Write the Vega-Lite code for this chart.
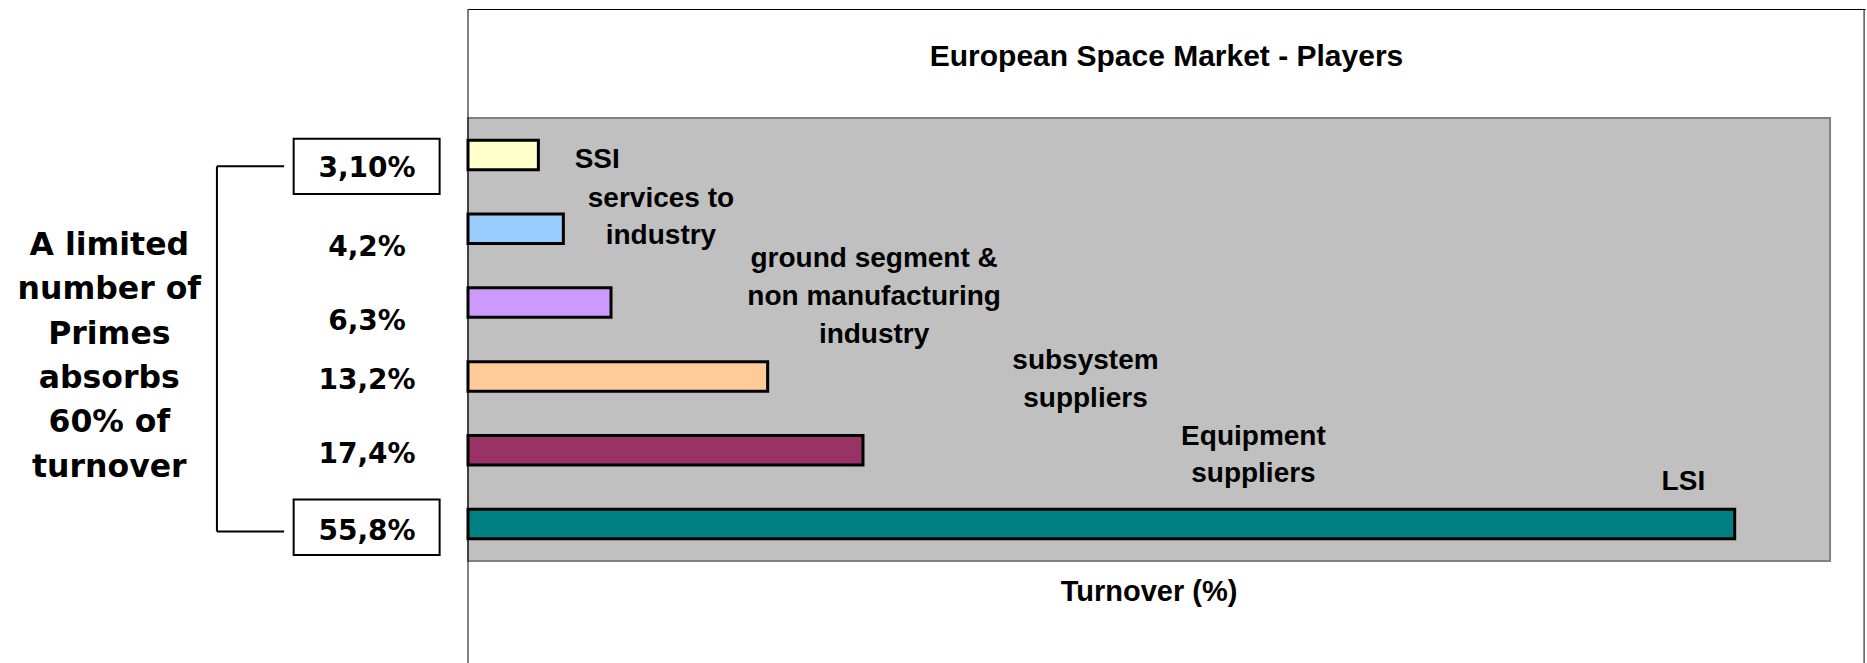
{
  "$schema": "https://vega.github.io/schema/vega-lite/v6.json",
  "width": 1397,
  "height": 654,
  "autosize": {"type": "none"},
  "padding": {"left": 468, "top": 9, "right": 2, "bottom": 0},
  "background": "white",
  "config": {"view": {"stroke": null}},
  "title": {"text": "European Space Market - Players", "anchor": "middle", "frame": "group", "orient": "top", "offset": 0, "baseline": "alphabetic", "dy": 87, "font": "Liberation Sans", "fontSize": 30, "fontWeight": "bold", "color": "black"},
  "data": {"values": [
    {"player": "SSI", "label": "SSI", "turnover": 3.1, "share": "3,10%"},
    {"player": "services to industry", "label": "services to\nindustry", "turnover": 4.2, "share": "4,2%"},
    {"player": "ground segment & non manufacturing industry", "label": "ground segment &\nnon manufacturing\nindustry", "turnover": 6.3, "share": "6,3%"},
    {"player": "subsystem suppliers", "label": "subsystem\nsuppliers", "turnover": 13.2, "share": "13,2%"},
    {"player": "Equipment suppliers", "label": "Equipment\nsuppliers", "turnover": 17.4, "share": "17,4%"},
    {"player": "LSI", "label": "LSI", "turnover": 55.8, "share": "55,8%"}
  ]},
  "layer": [
    {
      "data": {"values": [{}]},
      "mark": {"type": "rect", "fill": "#C0C0C0", "stroke": "#808080", "strokeWidth": 2},
      "encoding": {
        "x": {"datum": 0, "type": "quantitative"},
        "x2": {"datum": 60},
        "y": {"datum": "SSI", "type": "nominal", "bandPosition": -0.75, "axis": null},
        "y2": {"datum": "LSI", "bandPosition": 1.75}
      }
    },
    {
      "data": {"values": [{}]},
      "mark": {"type": "rule", "color": "black", "strokeWidth": 1},
      "encoding": {"x": {"datum": 0, "type": "quantitative"}}
    },
    {
      "data": {"values": [{}]},
      "mark": {"type": "rule", "color": "black", "strokeWidth": 1},
      "encoding": {"x": {"datum": 61.5, "type": "quantitative"}}
    },
    {
      "mark": {"type": "bar", "stroke": "black", "strokeWidth": 3},
      "encoding": {
        "x": {"field": "turnover", "type": "quantitative",
              "scale": {"domain": [0, 61.54], "nice": false, "zero": false},
              "axis": {"orient": "top", "domain": true, "domainColor": "black", "domainWidth": 1, "ticks": false, "labels": false, "grid": false, "title": null}},
        "y": {"field": "player", "type": "nominal",
              "scale": {"domain": ["SSI", "services to industry", "ground segment & non manufacturing industry", "subsystem suppliers", "Equipment suppliers", "LSI"], "range": [109, 552], "paddingInner": 0.6, "paddingOuter": 0.3},
              "axis": null},
        "color": {"field": "player", "type": "nominal",
                  "scale": {"domain": ["SSI", "services to industry", "ground segment & non manufacturing industry", "subsystem suppliers", "Equipment suppliers", "LSI"], "range": ["#FFFFCC", "#99CCFF", "#CC99FF", "#FFCC99", "#993366", "#008080"]},
                  "legend": null}
      }
    },
    {
      "transform": [{"filter": "datum.player === 'SSI'"}],
      "mark": {"type": "text", "font": "Liberation Sans", "fontWeight": "bold", "fontSize": 28, "align": "left", "baseline": "alphabetic", "dy": 12.7, "color": "black", "lineBreak": "\n", "lineHeight": 37.5},
      "encoding": {"x": {"datum": 4.7, "type": "quantitative"}, "y": {"field": "player", "type": "nominal", "axis": null}, "text": {"field": "label"}}
    },
    {
      "transform": [{"filter": "datum.player === 'services to industry'"}],
      "mark": {"type": "text", "font": "Liberation Sans", "fontWeight": "bold", "fontSize": 28, "align": "center", "baseline": "alphabetic", "dy": -22.1, "color": "black", "lineBreak": "\n", "lineHeight": 37.5},
      "encoding": {"x": {"datum": 8.5, "type": "quantitative"}, "y": {"field": "player", "type": "nominal", "axis": null}, "text": {"field": "label"}}
    },
    {
      "transform": [{"filter": "datum.player === 'ground segment & non manufacturing industry'"}],
      "mark": {"type": "text", "font": "Liberation Sans", "fontWeight": "bold", "fontSize": 28, "align": "center", "baseline": "alphabetic", "dy": -35.1, "color": "black", "lineBreak": "\n", "lineHeight": 38},
      "encoding": {"x": {"datum": 17.89, "type": "quantitative"}, "y": {"field": "player", "type": "nominal", "axis": null}, "text": {"field": "label"}}
    },
    {
      "transform": [{"filter": "datum.player === 'subsystem suppliers'"}],
      "mark": {"type": "text", "font": "Liberation Sans", "fontWeight": "bold", "fontSize": 28, "align": "center", "baseline": "alphabetic", "dy": -7.2, "color": "black", "lineBreak": "\n", "lineHeight": 38},
      "encoding": {"x": {"datum": 27.2, "type": "quantitative"}, "y": {"field": "player", "type": "nominal", "axis": null}, "text": {"field": "label"}}
    },
    {
      "transform": [{"filter": "datum.player === 'Equipment suppliers'"}],
      "mark": {"type": "text", "font": "Liberation Sans", "fontWeight": "bold", "fontSize": 28, "align": "center", "baseline": "alphabetic", "dy": -5.3, "color": "black", "lineBreak": "\n", "lineHeight": 37.5},
      "encoding": {"x": {"datum": 34.6, "type": "quantitative"}, "y": {"field": "player", "type": "nominal", "axis": null}, "text": {"field": "label"}}
    },
    {
      "transform": [{"filter": "datum.player === 'LSI'"}],
      "mark": {"type": "text", "font": "Liberation Sans", "fontWeight": "bold", "fontSize": 28, "align": "center", "baseline": "alphabetic", "dy": -34, "color": "black"},
      "encoding": {"x": {"datum": 53.54, "type": "quantitative"}, "y": {"field": "player", "type": "nominal", "axis": null}, "text": {"field": "label"}}
    },
    {
      "transform": [{"filter": "datum.player === 'SSI'"}],
      "mark": {"type": "rect", "fill": "white", "stroke": "black", "strokeWidth": 2},
      "encoding": {"x": {"datum": -7.68, "type": "quantitative"}, "x2": {"datum": -1.25}, "y": {"field": "player", "type": "nominal", "bandPosition": -0.05, "axis": null}, "y2": {"field": "player", "bandPosition": 1.82}}
    },
    {
      "transform": [{"filter": "datum.player === 'LSI'"}],
      "mark": {"type": "rect", "fill": "white", "stroke": "black", "strokeWidth": 2},
      "encoding": {"x": {"datum": -7.68, "type": "quantitative"}, "x2": {"datum": -1.25}, "y": {"field": "player", "type": "nominal", "bandPosition": -0.33, "axis": null}, "y2": {"field": "player", "bandPosition": 1.55}}
    },
    {
      "transform": [{"filter": "datum.player === 'SSI'"}],
      "mark": {"type": "text", "font": "DejaVu Sans", "fontWeight": "bold", "fontSize": 28, "align": "center", "baseline": "middle", "dy": 14, "color": "black"},
      "encoding": {"x": {"datum": -4.45, "type": "quantitative"}, "y": {"field": "player", "type": "nominal", "axis": null}, "text": {"field": "share"}}
    },
    {
      "transform": [{"filter": "indexof(['services to industry', 'ground segment & non manufacturing industry'], datum.player) >= 0"}],
      "mark": {"type": "text", "font": "DejaVu Sans", "fontWeight": "bold", "fontSize": 28, "align": "center", "baseline": "middle", "dy": 19, "color": "black"},
      "encoding": {"x": {"datum": -4.45, "type": "quantitative"}, "y": {"field": "player", "type": "nominal", "axis": null}, "text": {"field": "share"}}
    },
    {
      "transform": [{"filter": "indexof(['subsystem suppliers', 'Equipment suppliers'], datum.player) >= 0"}],
      "mark": {"type": "text", "font": "DejaVu Sans", "fontWeight": "bold", "fontSize": 28, "align": "center", "baseline": "middle", "dy": 4.5, "color": "black"},
      "encoding": {"x": {"datum": -4.45, "type": "quantitative"}, "y": {"field": "player", "type": "nominal", "axis": null}, "text": {"field": "share"}}
    },
    {
      "transform": [{"filter": "datum.player === 'LSI'"}],
      "mark": {"type": "text", "font": "DejaVu Sans", "fontWeight": "bold", "fontSize": 28, "align": "center", "baseline": "middle", "dy": 8, "color": "black"},
      "encoding": {"x": {"datum": -4.45, "type": "quantitative"}, "y": {"field": "player", "type": "nominal", "axis": null}, "text": {"field": "share"}}
    },
    {
      "data": {"values": [{}]},
      "mark": {"type": "rule", "color": "black", "strokeWidth": 2},
      "encoding": {"x": {"datum": -11.06, "type": "quantitative"}, "y": {"datum": "SSI", "type": "nominal", "bandPosition": 0.886, "axis": null}, "y2": {"datum": "LSI", "bandPosition": 0.755}}
    },
    {
      "data": {"values": [{}]},
      "mark": {"type": "rule", "color": "black", "strokeWidth": 2},
      "encoding": {"x": {"datum": -11.06, "type": "quantitative"}, "x2": {"datum": -8.1}, "y": {"datum": "SSI", "type": "nominal", "bandPosition": 0.886, "axis": null}}
    },
    {
      "data": {"values": [{}]},
      "mark": {"type": "rule", "color": "black", "strokeWidth": 2},
      "encoding": {"x": {"datum": -11.06, "type": "quantitative"}, "x2": {"datum": -8.1}, "y": {"datum": "LSI", "type": "nominal", "bandPosition": 0.755, "axis": null}}
    },
    {
      "data": {"values": [{"note": "A limited\nnumber of\nPrimes\nabsorbs\n60% of\nturnover"}]},
      "mark": {"type": "text", "font": "DejaVu Sans", "fontWeight": "bold", "fontSize": 31.5, "align": "center", "baseline": "middle", "dy": 17, "color": "black", "lineBreak": "\n", "lineHeight": 44.4},
      "encoding": {"x": {"datum": -15.8, "type": "quantitative"}, "y": {"datum": "services to industry", "type": "nominal", "axis": null}, "text": {"field": "note"}}
    },
    {
      "data": {"values": [{"axis_title": "Turnover (%)"}]},
      "mark": {"type": "text", "font": "Liberation Sans", "fontWeight": "bold", "fontSize": 29, "align": "center", "baseline": "alphabetic", "dy": 76.5, "color": "black"},
      "encoding": {"x": {"datum": 30, "type": "quantitative"}, "y": {"datum": "LSI", "type": "nominal", "axis": null}, "text": {"field": "axis_title"}}
    }
  ]
}
